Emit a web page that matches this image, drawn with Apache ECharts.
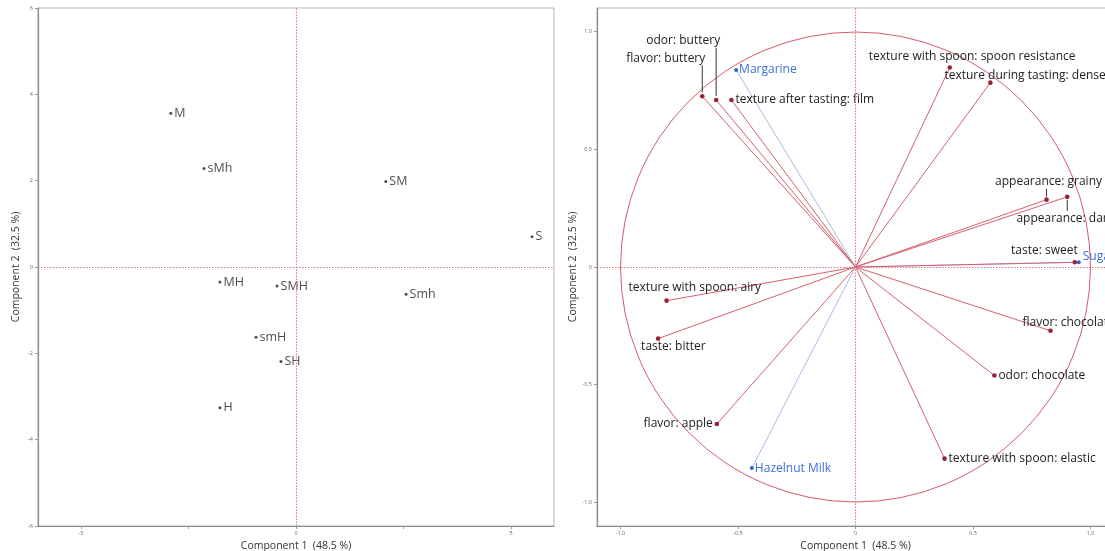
<!DOCTYPE html>
<html>
<head>
<meta charset="utf-8">
<script src="https://cdn.jsdelivr.net/npm/echarts@6/dist/echarts.min.js"></script>
<style>
html,body{margin:0;padding:0;background:#fff;}
#chart{width:1105px;height:551px;}
</style>
</head>
<body>
<div id="chart"></div>
<script>
// ---- Data: scores (left plot) ----
const scoreNames = ['M','sMh','SM','S','MH','SMH','Smh','smH','SH','H'];
const scoreX = [-2.91,-2.14,2.09,5.49,-1.77,-0.44,2.56,-0.93,-0.35,-1.77];
const scoreY = [3.56,2.28,1.98,0.70,-0.35,-0.44,-0.63,-1.63,-2.19,-3.26];

// ---- Data: loadings (right plot) ----
const varNames = [
  'odor: buttery','flavor: buttery','texture after tasting: film',
  'texture with spoon: spoon resistance','texture during tasting: dense',
  'appearance: grainy','appearance: dark','taste: sweet',
  'flavor: chocolate','odor: chocolate','texture with spoon: elastic',
  'texture with spoon: airy','taste: bitter','flavor: apple'
];
const varX = [-0.593,-0.652,-0.528,0.401,0.574,0.813,0.901,0.933,0.830,0.591,0.379,-0.804,-0.840,-0.590];
const varY = [0.709,0.725,0.709,0.847,0.783,0.286,0.298,0.020,-0.271,-0.461,-0.814,-0.143,-0.304,-0.667];

// ---- Data: supplementary variables (blue) ----
const supNames = ['Margarine','Sugar','Hazelnut Milk'];
const supX = [-0.508,0.950,-0.441];
const supY = [0.837,0.020,-0.854];

// ---- Axis tick labels ----
const leftXTicks = [-5,0,5];
const leftXMinorTicks = [-5,-2.5,0,2.5,5];
const leftYTicks = [-6,-4,-2,0,2,4,6];
const rightTicks = [-1.0,-0.5,0,0.5,1.0];
const axisTitleX = 'Component 1  (48.5 %)';
const axisTitleY = 'Component 2  (32.5 %)';
const unitCircleRadius = [1];

// ---- Label placement (layout only) ----
const FONT = '"Open Sans", "Noto Sans", sans-serif';
const labelPlacement = {
  'odor: buttery': {align:'right', dx:4, dy:-59, leader:[-4,-52]},
  'flavor: buttery': {align:'right', dx:3, dy:-38, leader:[-4,-31]},
  'texture after tasting: film': {align:'left', dx:4, dy:0},
  'texture with spoon: spoon resistance': {align:'left', dx:-81, dy:-11},
  'texture during tasting: dense': {align:'left', dx:-46, dy:-7},
  'appearance: grainy': {align:'center', dx:2, dy:-18, leader:[-3,-11]},
  'appearance: dark': {align:'center', dx:-2, dy:22, leader:[3,14]},
  'taste: sweet': {align:'right', dx:3, dy:-12},
  'flavor: chocolate': {align:'left', dx:-28, dy:-8},
  'odor: chocolate': {align:'left', dx:4, dy:0},
  'texture with spoon: elastic': {align:'left', dx:4, dy:0},
  'texture with spoon: airy': {align:'left', dx:-38, dy:-13},
  'taste: bitter': {align:'left', dx:-17, dy:8},
  'flavor: apple': {align:'right', dx:-4, dy:0},
  'Margarine': {align:'left', dx:3, dy:0},
  'Sugar': {align:'left', dx:4, dy:-6},
  'Hazelnut Milk': {align:'left', dx:3, dy:0}
};

const chart = echarts.init(document.getElementById('chart'), null, {renderer:'canvas'});

function fmt1(v){ return v === 0 ? '0' : v.toFixed(1); }

const axisCommon = {
  axisLine:{onZero:false, lineStyle:{color:'#8a8a8a', width:1.2}},
  splitLine:{show:false},
  nameLocation:'middle',
  nameTextStyle:{fontFamily:FONT, fontSize:10.5, color:'#333'}
};

function vectorRender(names, xs, ys, kind){
  return function(params, api){
    const i = params.dataIndex;
    const o = api.coord([0,0]);
    const p = api.coord([xs[i], ys[i]]);
    const name = names[i];
    const lp = labelPlacement[name] || {align:'left', dx:4, dy:0};
    const isSup = kind === 'sup';
    const children = [
      {type:'line', shape:{x1:o[0], y1:o[1], x2:p[0], y2:p[1]},
       style:{stroke: isSup ? '#a9bde2' : '#d4606f', lineWidth:1}},
      {type:'circle', shape:{cx:p[0], cy:p[1], r: isSup ? 2 : 2.3},
       style:{fill: isSup ? '#2f62d6' : '#9b2236'}},
      {type:'text', style:{text:name, x:p[0]+lp.dx, y:p[1]+lp.dy,
        align:lp.align, verticalAlign:'middle',
        font:'12px ' + FONT, fill: isSup ? '#3a6fd8' : '#222'}}
    ];
    if (lp.leader){
      children.push({type:'line', shape:{x1:p[0], y1:p[1]+lp.leader[0], x2:p[0], y2:p[1]+lp.leader[1]},
        style:{stroke:'#333', lineWidth:1}});
    }
    return {type:'group', children:children};
  };
}

const zeroLineStyle = {type:[1.5,1.5], color:'#e07585', width:1};
const zeroMark = {
  silent:true, symbol:'none', label:{show:false},
  lineStyle:zeroLineStyle,
  emphasis:{disabled:true},
  data:[{xAxis:0, lineStyle:zeroLineStyle},{yAxis:0, lineStyle:zeroLineStyle}]
};

const option = {
  backgroundColor:'#fff',
  animation:false,
  grid:[
    {left:38, top:8, width:516, height:518, show:true, borderColor:'#b5b5b5', borderWidth:1,
     containLabel:false, outerBoundsMode:'none'},
    {left:597, top:8, width:517, height:518, show:true, borderColor:'#b5b5b5', borderWidth:1,
     containLabel:false, outerBoundsMode:'none'}
  ],
  xAxis:[
    Object.assign({}, axisCommon, {gridIndex:0, type:'value', min:-6, max:6,
      name:axisTitleX, nameGap:13,
      axisLabel:{customValues:leftXTicks, fontSize:5.5, color:'#666', margin:4, fontFamily:FONT},
      axisTick:{show:true, customValues:leftXMinorTicks, length:3, lineStyle:{color:'#999'}}}),
    Object.assign({}, axisCommon, {gridIndex:1, type:'value', min:-1.1, max:1.1,
      name:axisTitleX, nameGap:13,
      axisLabel:{customValues:rightTicks, formatter:fmt1, fontSize:5.5, color:'#666', margin:4, fontFamily:FONT},
      axisTick:{show:true, customValues:rightTicks, length:3, lineStyle:{color:'#999'}}})
  ],
  yAxis:[
    Object.assign({}, axisCommon, {gridIndex:0, type:'value', min:-6, max:6,
      name:axisTitleY, nameGap:16,
      axisLabel:{customValues:leftYTicks, fontSize:5.5, color:'#666', margin:5, fontFamily:FONT},
      axisTick:{show:true, customValues:leftYTicks, length:3, lineStyle:{color:'#999'}}}),
    Object.assign({}, axisCommon, {gridIndex:1, type:'value', min:-1.1, max:1.1,
      name:axisTitleY, nameGap:16,
      axisLabel:{customValues:rightTicks, formatter:fmt1, fontSize:5.5, color:'#666', margin:5, fontFamily:FONT},
      axisTick:{show:true, customValues:rightTicks, length:3, lineStyle:{color:'#999'}}})
  ],
  series:[
    {
      type:'scatter', xAxisIndex:0, yAxisIndex:0,
      symbolSize:3, itemStyle:{color:'#222'},
      data: scoreNames.map((n,i)=>[scoreX[i], scoreY[i], n]),
      label:{show:true, position:'right', distance:2, formatter:p=>p.data[2],
        fontFamily:FONT, fontSize:12.5, color:'#222'},
      markLine: zeroMark,
      silent:true
    },
    {
      type:'custom', xAxisIndex:1, yAxisIndex:1, silent:true,
      data: unitCircleRadius.map(r=>[0,0,r]),
      renderItem:function(params, api){
        const c = api.coord([0,0]);
        const r = api.size([unitCircleRadius[params.dataIndex], 0])[0];
        return {type:'circle', shape:{cx:c[0], cy:c[1], r:r},
          style:{fill:'none', stroke:'#d65a6a', lineWidth:1}};
      },
      markLine: zeroMark
    },
    {
      type:'custom', xAxisIndex:1, yAxisIndex:1, silent:true, clip:false,
      data: supNames.map((n,i)=>[supX[i], supY[i]]),
      renderItem: vectorRender(supNames, supX, supY, 'sup')
    },
    {
      type:'custom', xAxisIndex:1, yAxisIndex:1, silent:true, clip:false,
      data: varNames.map((n,i)=>[varX[i], varY[i]]),
      renderItem: vectorRender(varNames, varX, varY, 'var')
    }
  ]
};
chart.setOption(option);
</script>
</body>
</html>
